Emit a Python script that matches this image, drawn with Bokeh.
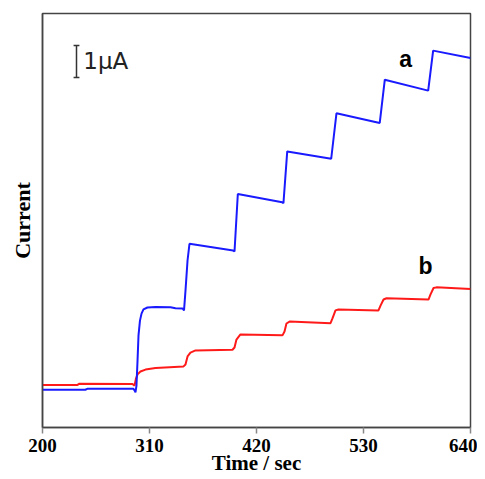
from bokeh.plotting import figure
from bokeh.models import Label, Range1d, FixedTicker
from bokeh.embed import file_html
from bokeh.resources import INLINE

# Curve a (blue): time (s) and current (uA, arbitrary offset)
time_a = [200, 244, 246, 293.5, 294.6, 295.6, 296.6, 297.7, 298.7, 300.2, 301.8, 303.8,
          307.9, 316.2, 331.6, 336.7, 343.9, 345.5, 347, 349.1, 351.1, 396.0, 397.4,
          400.8, 446.4, 447.7, 451.6, 496.8, 502.2, 546.7, 551.9, 596.5, 601.6, 640]
current_a = [1.18, 1.18, 1.21, 1.21, 1.16, 1.10, 1.31, 2.09, 2.88, 3.34, 3.56, 3.69,
             3.75, 3.77, 3.76, 3.73, 3.72, 3.66, 4.28, 5.22, 5.74, 5.53, 5.50,
             7.30, 7.04, 7.01, 8.63, 8.40, 9.82, 9.52, 10.87, 10.53, 11.78, 11.55]

# Curve b (red)
time_b = [200, 236, 238, 292.5, 294.6, 296.1, 297.7, 300.7, 305.9, 316.2, 345, 347,
          349.1, 352.1, 357.3, 395.3, 397.4, 399.4, 403.5, 446.7, 448.8, 450.8, 454.0,
          496.1, 498.1, 501.2, 504.3, 545.4, 547.5, 550.6, 553.7, 596.8, 598.9, 602.0,
          605.0, 640]
current_b = [1.33, 1.33, 1.37, 1.36, 1.31, 1.53, 1.66, 1.75, 1.81, 1.86, 1.91, 1.97,
             2.22, 2.34, 2.41, 2.43, 2.50, 2.75, 2.91, 2.88, 3.00, 3.25, 3.31,
             3.26, 3.41, 3.66, 3.69, 3.66, 3.81, 4.00, 4.04, 4.00, 4.16, 4.36,
             4.38, 4.33]

x_ticks = [200, 310, 420, 530, 640]

p = figure(width=477, height=479, output_backend="svg", toolbar_location=None,
           x_range=Range1d(200, 640), y_range=Range1d(0, 12.94),
           min_border_left=42, min_border_top=13, min_border_right=7, min_border_bottom=52)
p.background_fill_color = "white"
p.border_fill_color = "white"
p.grid.visible = False
p.outline_line_color = "#444444"
p.outline_line_width = 1.5

ay = p.yaxis[0]
ay.ticker = FixedTicker(ticks=[])
ay.major_tick_in = 0
ay.major_tick_out = 0
ay.minor_tick_line_color = None
ay.major_label_standoff = 0
ay.axis_line_color = "#444444"
ay.axis_line_width = 1.5
ay.axis_label = "Current"
ay.axis_label_text_font = "Liberation Serif"
ay.axis_label_text_font_style = "bold"
ay.axis_label_text_font_size = "22px"
ay.axis_label_text_color = "black"
ay.axis_label_standoff = 8

ax = p.xaxis[0]
ax.ticker = FixedTicker(ticks=x_ticks)
ax.axis_line_color = "#444444"
ax.axis_line_width = 1.5
ax.major_tick_in = 0
ax.major_tick_out = 6
ax.major_tick_line_color = "#888888"
ax.major_tick_line_width = 1.5
ax.minor_tick_line_color = None
ax.major_label_text_font = "Liberation Serif"
ax.major_label_text_font_style = "bold"
ax.major_label_text_font_size = "19px"
ax.major_label_text_color = "black"
ax.major_label_standoff = 5
ax.axis_label = "Time / sec"
ax.axis_label_text_font = "Liberation Serif"
ax.axis_label_text_font_style = "bold"
ax.axis_label_text_font_size = "21px"
ax.axis_label_text_color = "black"
ax.axis_label_standoff = -4

p.line(time_b, current_b, line_color="#ff1a1a", line_width=2)
p.line(time_a, current_a, line_color="#1a1aff", line_width=2)

# Scale bar 1 uA
bx = 234.95
p.segment(x0=[bx, bx - 3, bx - 3], y0=[10.94, 10.94, 11.94],
          x1=[bx, bx + 3, bx + 3], y1=[11.94, 10.94, 11.94],
          line_color="#333333", line_width=1.5)
p.add_layout(Label(x=242.0, y=11.47, text="1\u03bcA", text_font="DejaVu Sans",
                   text_font_size="23px", text_color="#222222",
                   text_baseline="middle", text_align="left"))

p.add_layout(Label(x=573.2, y=11.53, text="a", text_font="Liberation Sans",
                   text_font_style="bold", text_font_size="23px", text_color="black",
                   text_baseline="middle", text_align="center"))
p.add_layout(Label(x=593.7, y=5.06, text="b", text_font="Liberation Sans",
                   text_font_style="bold", text_font_size="23px", text_color="black",
                   text_baseline="middle", text_align="center"))

open("out.html", "w").write(file_html(p, INLINE))
